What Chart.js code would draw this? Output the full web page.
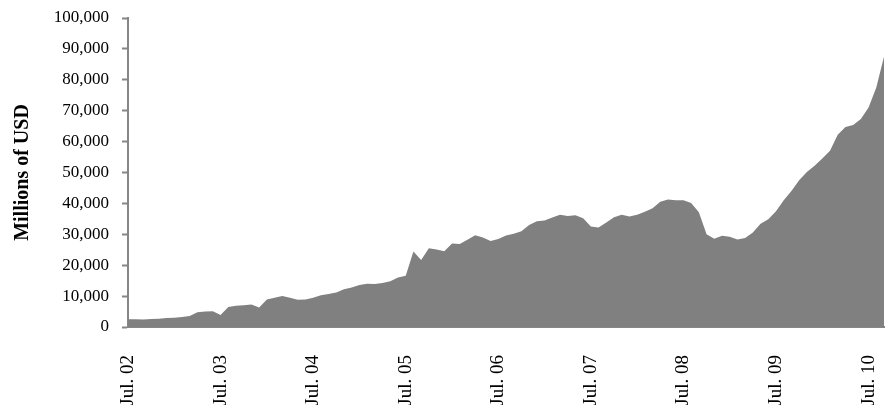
<!DOCTYPE html>
<html>
<head>
<meta charset="utf-8">
<script src="https://cdn.jsdelivr.net/npm/chart.js@4/dist/chart.umd.min.js"></script>
<style>
  html, body { margin: 0; padding: 0; background: #ffffff; }
  #wrap { width: 885px; height: 405px; position: relative; }
</style>
</head>
<body>
<div id="wrap"><canvas id="chart"></canvas></div>
<script>
// monthly categories, Jul. 2002 to Sep. 2010
const monthNames = ['Jan', 'Feb', 'Mar', 'Apr', 'May', 'Jun', 'Jul', 'Aug', 'Sep', 'Oct', 'Nov', 'Dec'];
const months = [];
for (let y = 2002, m = 6; months.length < 99; m++) {
    if (m === 12) { m = 0; y++; }
    months.push(monthNames[m] + '. ' + String(y % 100).padStart(2, '0'));
}

// Millions of USD
const values = [
    2500, 2500, 2400, 2600, 2700, 2900, 3000, 3200, 3600, 4800, 5000, 5100,
    3900, 6500, 6900, 7000, 7300, 6300, 8900, 9500, 10000, 9500, 8800, 8900,
    9500, 10300, 10700, 11200, 12200, 12800, 13600, 14000, 13900, 14200, 14800, 16000,
    16600, 24400, 21700, 25500, 25100, 24500, 27000, 26900, 28200, 29700, 29000, 27800,
    28500, 29600, 30200, 31000, 33000, 34200, 34500, 35400, 36300, 35900, 36200, 35200,
    32500, 32200, 33800, 35500, 36300, 35800, 36300, 37300, 38400, 40500, 41300, 41000,
    41000, 40100, 37100, 30000, 28600, 29500, 29200, 28300, 28800, 30600, 33400, 34900,
    37500, 41000, 44000, 47500, 50200, 52200, 54500, 57000, 62200, 64700, 65400, 67300,
    71000, 77500, 87500
];

const yTicks = [0, 10000, 20000, 30000, 40000, 50000, 60000, 70000, 80000, 90000, 100000];

const axisGray = '#868686';
const fontFamily = '"Liberation Serif", "Times New Roman", serif';

const ctx = document.getElementById('chart').getContext('2d');
new Chart(ctx, {
    type: 'line',
    data: {
        labels: months,
        datasets: [{
            label: 'Millions of USD',
            data: values,
            fill: 'origin',
            backgroundColor: '#808080',
            borderColor: '#808080',
            borderWidth: 0,
            pointRadius: 0,
            tension: 0
        }]
    },
    options: {
        responsive: true,
        maintainAspectRatio: false,
        animation: false,
        layout: { padding: { top: 18, right: 1, left: 0, bottom: 0 } },
        plugins: {
            legend: { display: false },
            tooltip: { enabled: false }
        },
        scales: {
            x: {
                type: 'category',
                offset: false,
                grid: { display: false },
                border: { display: true, color: axisGray, width: 2 },
                ticks: {
                    autoSkip: false,
                    maxRotation: 90,
                    minRotation: 90,
                    padding: 20,
                    color: '#000000',
                    font: { family: fontFamily, size: 19 },
                    callback: function(val, index) {
                        return index % 12 === 0 ? months[index] : '';
                    }
                },
                afterFit: function(scale) {
                    scale.height = 78;
                    scale.paddingLeft = 0;
                    scale.paddingRight = 0;
                }
            },
            y: {
                min: 0,
                max: 100000,
                afterBuildTicks: function(scale) {
                    scale.ticks = yTicks.map(v => ({ value: v }));
                },
                grid: {
                    drawOnChartArea: false,
                    drawTicks: true,
                    tickLength: 6,
                    tickColor: axisGray,
                    tickWidth: 2
                },
                border: { display: true, color: axisGray, width: 2 },
                ticks: {
                    padding: 13,
                    color: '#000000',
                    font: { family: fontFamily, size: 17 },
                    callback: function(val) { return val.toLocaleString('en-US'); }
                },
                title: {
                    display: true,
                    text: 'Millions of USD',
                    color: '#000000',
                    padding: { top: 11, bottom: 10 },
                    font: { family: fontFamily, size: 20, weight: 'bold' }
                },
                afterFit: function(scale) {
                    scale.width = 128;
                    scale.paddingTop = 0;
                    scale.paddingBottom = 0;
                }
            }
        }
    }
});
</script>
</body>
</html>
